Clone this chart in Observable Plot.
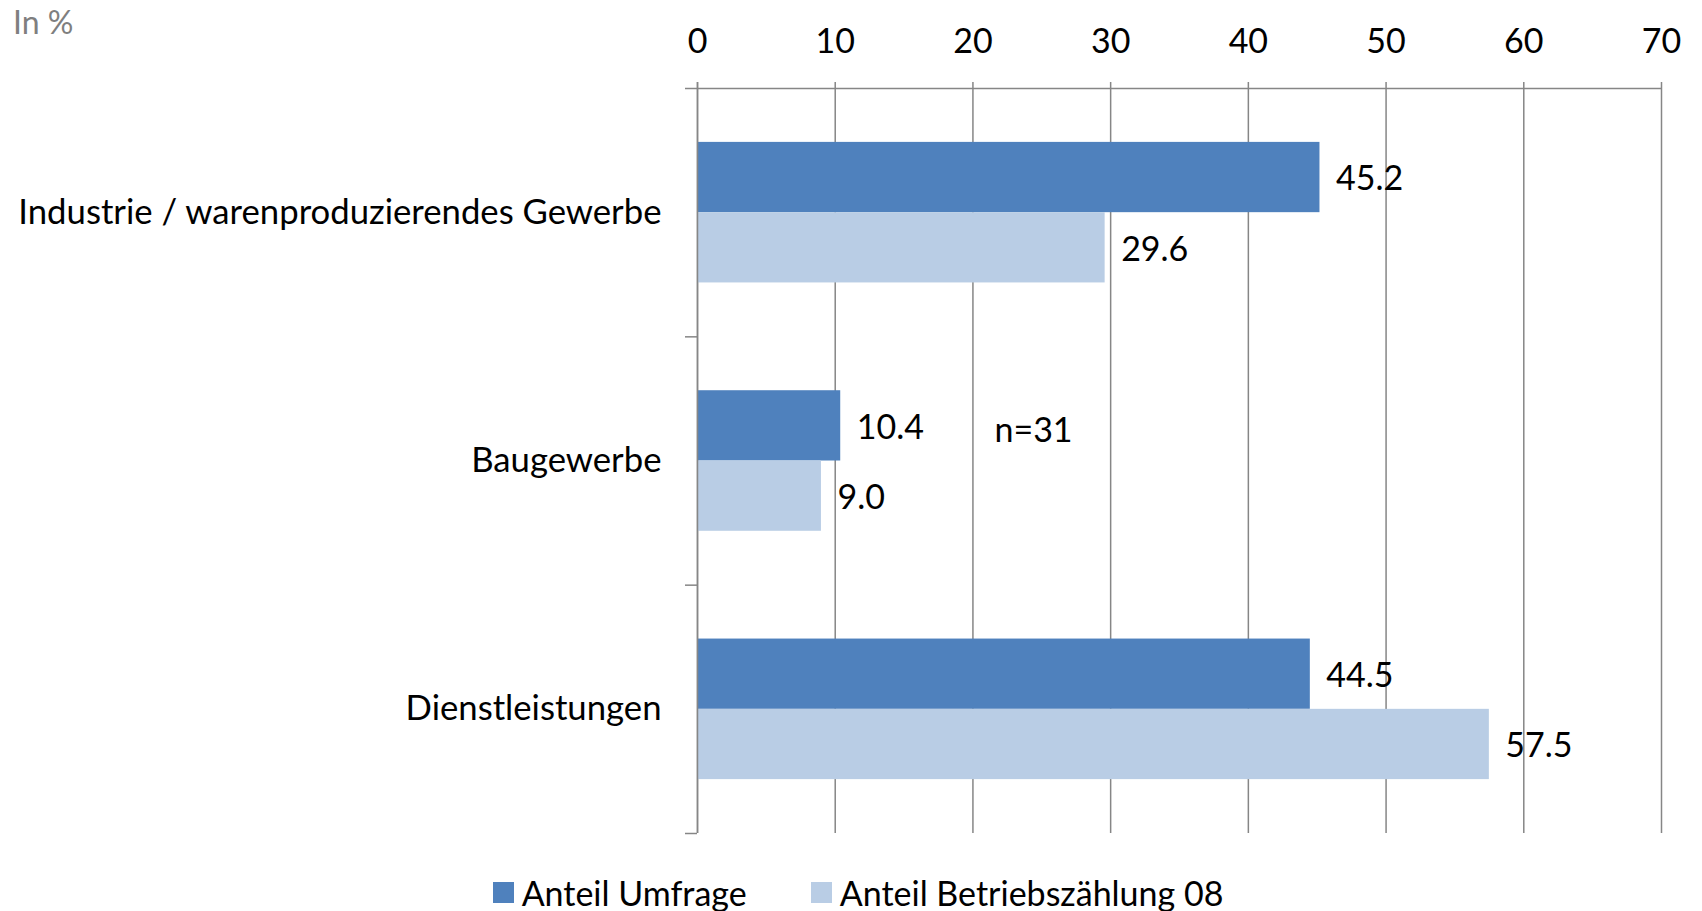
<!DOCTYPE html>
<html>
<head>
<meta charset="utf-8">
<script src="https://cdn.jsdelivr.net/npm/d3@7"></script>
<script src="https://cdn.jsdelivr.net/npm/@observablehq/plot@0.6"></script>
<style>
  html, body { margin: 0; padding: 0; background: #fff; }
  body { width: 1702px; height: 911px; overflow: hidden; position: relative; font-family: Lato, "Open Sans", sans-serif; }
  #chart svg { display: block; }
  #unit { position: absolute; left: 13px; top: 2px; font-size: 32px; color: #7f7f7f; line-height: 40px; }
  #legend { position: absolute; left: 7px; top: 872px; width: 1702px; height: 40px; display: flex; justify-content: center; align-items: center; gap: 64px; font-size: 34px; color: #000; }
  #legend .item { display: flex; align-items: center; gap: 8px; }
  #legend .sw { width: 21px; height: 21px; display: inline-block; }
  #chart g[aria-label^="y-axis"] { color: #868686; }
  #chart g[aria-label^="y-axis"] line, #chart g[aria-label^="y-axis"] path { stroke-width: 1.5; }
</style>
</head>
<body>
<div id="unit">In %</div>
<div id="chart"></div>
<div id="legend"></div>
<script>
// ---- data ----
const categories = ["Industrie / warenproduzierendes Gewerbe", "Baugewerbe", "Dienstleistungen"];
const seriesNames = ["Anteil Umfrage", "Anteil Betriebszählung 08"];
const umfrage = [45.2, 10.4, 44.5];
const betrieb = [29.6, 9.0, 57.5];
const xTicks = [0, 10, 20, 30, 40, 50, 60, 70];
const seriesColors = ["#4F81BD", "#B9CDE5"];
const noteLabel = "n=31";
const noteCategory = "Baugewerbe";
const noteValue = 24.4;

// ---- layout helpers (band fractions within each category) ----
const gapFrac = 0.217;
const barFrac = (1 - 2 * gapFrac) / 2;

const rows = [];
categories.forEach((c, i) => {
  [umfrage, betrieb].forEach((arr, s) => {
    const y1 = i + gapFrac + s * barFrac;
    rows.push({category: c, series: seriesNames[s], s, value: arr[i], y1, y2: y1 + barFrac});
  });
});

const gray = "#868686";

const chart = Plot.plot({
  width: 1702,
  height: 860,
  marginTop: 88,
  marginLeft: 697,
  marginRight: 41,
  marginBottom: 27,
  style: {fontFamily: "Lato, 'Open Sans', sans-serif", fontSize: "34px", color: "#000", background: "transparent", overflow: "visible"},
  x: {domain: [0, 70], axis: null},
  y: {domain: [0, categories.length], reverse: true, ticks: d3.range(categories.length + 1), tickSize: 12, tickFormat: () => "", label: null},
  color: {domain: seriesNames, range: seriesColors},
  marks: [
    Plot.ruleX(xTicks, {x: d => d, stroke: gray, strokeWidth: 1.5, insetTop: -6}),
    Plot.ruleY([0], {stroke: gray, strokeWidth: 1.5}),
    Plot.rect(rows, {x1: 0, x2: "value", y1: "y1", y2: "y2", fill: "series"}),
    Plot.ruleX([0], {stroke: gray, strokeWidth: 1.5, insetTop: -6}),
    Plot.text(xTicks, {x: d => d, frameAnchor: "top", dy: -60, text: d => String(d), fill: "#000"}),
    Plot.text(categories, {frameAnchor: "left", y: (d, i) => i + 0.5, dx: -36, textAnchor: "end", text: d => d, fill: "#000", fontSize: 34.7}),
    Plot.text(rows, {x: "value", y: d => (d.y1 + d.y2) / 2, text: d => d.value.toFixed(1), dx: 16, dy: 2, textAnchor: "start", fill: "#000"}),
    Plot.text([noteLabel], {x: () => noteValue, y: () => categories.indexOf(noteCategory) + 0.38, text: d => d, fill: "#000"})
  ]
});
document.getElementById("chart").appendChild(chart);

// ---- legend ----
const legend = document.getElementById("legend");
seriesNames.forEach((name, i) => {
  const item = document.createElement("div");
  item.className = "item";
  const sw = document.createElement("span");
  sw.className = "sw";
  sw.style.background = seriesColors[i];
  const t = document.createElement("span");
  t.textContent = name;
  item.appendChild(sw);
  item.appendChild(t);
  legend.appendChild(item);
});
</script>
</body>
</html>
